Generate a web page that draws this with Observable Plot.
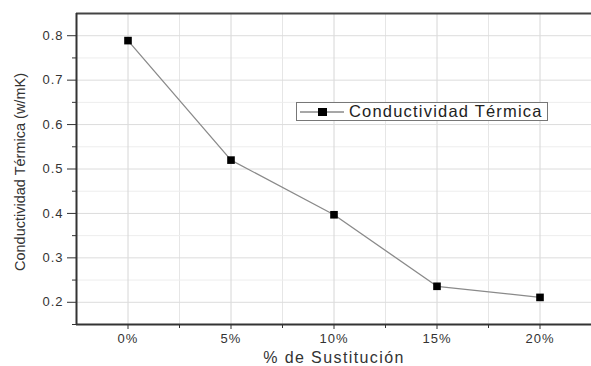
<!DOCTYPE html>
<html>
<head>
<meta charset="utf-8">
<script src="https://cdn.jsdelivr.net/npm/d3@7"></script>
<script src="https://cdn.jsdelivr.net/npm/@observablehq/plot@0.6"></script>
<style>
  body { margin: 0; background: #fff; }
  #wrap { position: relative; width: 591px; height: 366px; font-family: "Liberation Sans", Arial, sans-serif; }
  #legend { position: absolute; left: 296px; top: 102px; width: 252px; height: 19px; border: 1px solid #777;
    background: #fff; display: flex; align-items: center; font-size: 16.5px; letter-spacing: 1.2px; color: #222; box-sizing: border-box; }
  #legend svg { margin-left: 3px; margin-right: 5px; }
</style>
</head>
<body>
<div id="wrap"></div>
<script>
const categories = ["0%", "5%", "10%", "15%", "20%"];
const values = [0.789, 0.520, 0.397, 0.236, 0.211];
const yTicks = [0.2, 0.3, 0.4, 0.5, 0.6, 0.7, 0.8];
const yMinor = [0.15, 0.25, 0.35, 0.45, 0.55, 0.65, 0.75, 0.85];
const xMinor = [0.5, 1.5, 2.5, 3.5];
const yDomain = [0.15, 0.85];
const xDomain = [-0.5, 4.5];
const seriesName = "Conductividad Térmica";

const data = categories.map((c, i) => ({i, cat: c, v: values[i]}));

const chart = Plot.plot({
  width: 591,
  height: 366,
  marginLeft: 76,
  marginRight: 0,
  marginTop: 13,
  marginBottom: 42,
  style: {fontFamily: "'Liberation Sans', Arial, sans-serif", fontSize: "13px", color: "#333", background: "#fff"},
  x: {domain: xDomain},
  y: {domain: yDomain},
  marks: [
    Plot.gridX(xMinor, {stroke: "#e6e6e6", strokeOpacity: 1}),
    Plot.gridY(yMinor, {stroke: "#ededed", strokeOpacity: 1}),
    Plot.gridX([0, 1, 2, 3, 4], {stroke: "#d6d6d6", strokeOpacity: 1}),
    Plot.gridY(yTicks, {stroke: "#dcdcdc", strokeOpacity: 1}),
    Plot.ruleY([yDomain[1]], {stroke: "#444", strokeWidth: 2}),
    Plot.ruleY([yDomain[0]], {stroke: "#333", strokeWidth: 2}),
    Plot.ruleX([xDomain[0]], {stroke: "#333", strokeWidth: 2}),
    Plot.axisY(yTicks, {tickSize: 9, tickPadding: 4, tickFormat: d => d.toFixed(1), fontSize: 13, color: "#333",
      label: "Conductividad Térmica (w/mK)", labelAnchor: "center", labelArrow: "none", labelOffset: 62}),
    Plot.axisY(yMinor.slice(0, -1), {tickSize: 4, tickFormat: () => "", label: null}),
    Plot.axisX([0, 1, 2, 3, 4], {tickSize: 5, tickPadding: 4, tickFormat: i => categories[i], fontSize: 13, color: "#333",
      label: "% de Sustitución", labelAnchor: "center", labelArrow: "none", labelOffset: 38}),
    Plot.axisX(xMinor, {tickSize: 4, tickFormat: () => "", label: null}),
    Plot.line(data, {x: "i", y: "v", stroke: "#8a8a8a", strokeWidth: 1.3}),
    Plot.dot(data, {x: "i", y: "v", symbol: "square", r: 4.3, fill: "#000", stroke: "none"})
  ]
});

const wrap = document.getElementById("wrap");
wrap.appendChild(chart);
d3.select(chart).selectAll("g[aria-label='y-axis tick label'] text, g[aria-label='x-axis tick label'] text")
  .style("letter-spacing", "1px");
d3.select(chart).selectAll("g[aria-label='y-axis label'] text")
  .style("font-size", "14.5px").style("fill", "#333").attr("dx", "-3");
d3.select(chart).selectAll("g[aria-label='x-axis label'] text")
  .style("font-size", "16px").style("letter-spacing", "1.4px").style("fill", "#333");

const legend = document.createElement("div");
legend.id = "legend";
legend.innerHTML = `<svg width="44" height="10"><line x1="0" y1="5" x2="44" y2="5" stroke="#8a8a8a" stroke-width="1.3"/><rect x="18" y="1" width="9" height="8" fill="#000"/></svg><span>${seriesName}</span>`;
wrap.appendChild(legend);
</script>
</body>
</html>
